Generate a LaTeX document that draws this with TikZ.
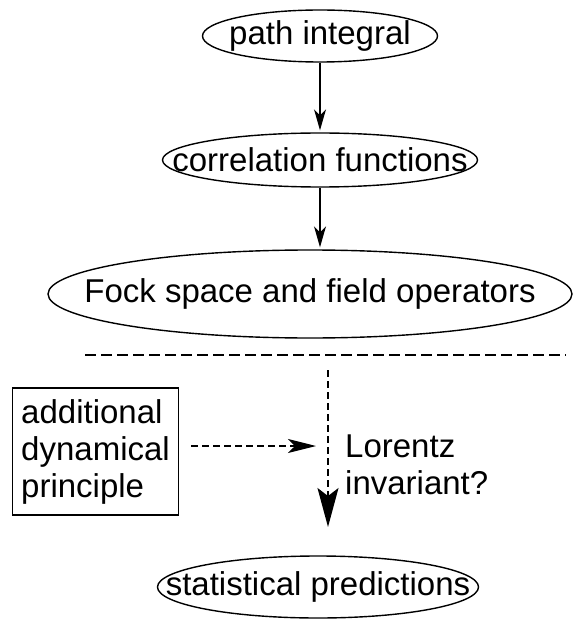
\documentclass[tikz,border=0pt]{standalone}
\usepackage{fontspec}
\setmainfont{Liberation Sans}
\usetikzlibrary{shapes.geometric,arrows.meta}
\begin{document}
\begin{tikzpicture}[x=1pt,y=-1pt,
  every node/.style={font=\fontsize{33}{37}\selectfont},
  oval/.style={ellipse,draw,line width=1.4pt,inner sep=0pt},
  lbl/.style={inner sep=0pt,anchor=center},
  flow/.style={line width=1.2pt,shorten >=2pt,-{Stealth[length=21pt,width=12pt,inset=6pt]}},
  dflow/.style={line width=1.4pt,dash pattern=on 7pt off 4pt},
]
\useasboundingbox (0,0) rectangle (574,620);

% main chain of ellipses
\node[oval,minimum width=235pt,minimum height=52pt] (pi) at (320,36) {};
\node[lbl] (pit) at (pi.center) {path integral};
\node[oval,minimum width=315pt,minimum height=54pt] (cf) at (320,160) {};
\node[lbl] (cft) at (cf.center) {correlation functions};
\node[oval,minimum width=524pt,minimum height=88pt] (fock) at (310,294) {};
\node[lbl] (fockt) at (fock.center) {Fock space and field operators};
\node[oval,minimum width=321pt,minimum height=62pt] (sp) at (318,587) {};
\node[lbl] (spt) at (sp.center) {statistical predictions};

\draw[flow] (pi) -- (cf);
\draw[flow] (cf.south) -- (cf.south |- fock.north);

% separator
\coordinate (sepl) at (85,355);
\coordinate (sepr) at (566,355);
\draw[line width=1.4pt,dash pattern=on 11pt off 5pt] (sepl) -- (sepr);

% additional principle box
\node[draw,line width=1.2pt,align=left,inner xsep=9pt,inner ysep=6pt,
      minimum width=165pt,minimum height=127pt] (dyn) at (95.5,451.5)
  {additional\\dynamical\\principle};

% Lorentz question
\node[anchor=west,align=left,inner sep=0pt] (lor) at (345,465) {Lorentz\\invariant?};

% dashed arrows
\coordinate (vtop) at (328,370);
\coordinate (vbot) at (328,527);
\draw[dflow,-{Stealth[length=39pt,width=21pt,inset=8pt]}] (vtop) -- (vbot);
\coordinate (hend) at (316,446);
\draw[dflow,line width=1.2pt,shorten <=12pt,-{Stealth[length=28pt,width=14pt,inset=7pt]}] (dyn.east |- hend) -- (hend);
\end{tikzpicture}
\end{document}
